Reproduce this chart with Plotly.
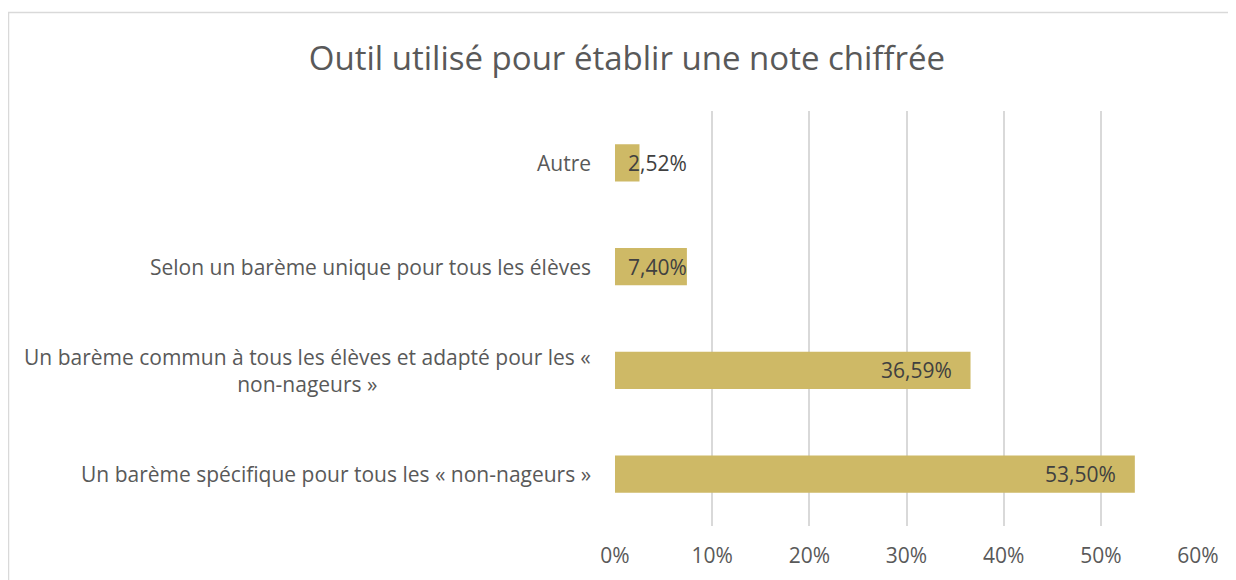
import plotly.graph_objects as go

# Data (top to bottom as displayed)
categories = [
    "Autre",
    "Selon un barème unique pour tous les élèves",
    "Un barème commun à tous les élèves et adapté pour les «<br>non-nageurs »",
    "Un barème spécifique pour tous les « non-nageurs »",
]
values = [2.52, 7.40, 36.59, 53.50]
tick_vals = [0, 10, 20, 30, 40, 50, 60]
tick_text = ["0%", "10%", "20%", "30%", "40%", "50%", "60%"]
title_text = "Outil utilisé pour établir une note chiffrée"

FONT = "'Open Sans', sans-serif"
BAR_COLOR = "#CEB966"
GRID = "#D9D9D9"
TXT = "#595959"
LBL = "#404040"

OFF = 8  # page body margin
W, H = 1236, 580
L, R, T, B = 615 - OFF, 38 + OFF, 111 - OFF, 54 + OFF
pw = W - L - R
ph = H - T - B

fig = go.Figure()
fig.add_trace(go.Bar(
    x=values, y=categories, orientation="h",
    marker=dict(color=BAR_COLOR, line=dict(width=0)),
    width=0.36, hoverinfo="skip",
))

# data labels (inside end, with minimum position for short bars)
label_floor = 7.6
for c, v in zip(categories, values):
    fig.add_annotation(
        x=max(v - 1.75, label_floor), y=c, xref="x", yref="y",
        text=f"{v:.2f}".replace(".", ",") + "%",
        showarrow=False, xanchor="right", yanchor="middle",
        font=dict(family=FONT, size=21, color=LBL),
    )

# category labels (centered multi-line)
for c in categories:
    fig.add_annotation(
        x=0, y=c, xref="paper", yref="y",
        text=c, showarrow=False, xanchor="right", yanchor="middle",
        align="center", xshift=-22,
        font=dict(family=FONT, size=21, color=TXT),
    )

# chart border (partially cropped like the reference)
fig.add_shape(
    type="rect", xref="paper", yref="paper",
    x0=(8.5 - OFF - L) / pw, x1=1.3,
    y0=-0.3, y1=1 + (T - (12.5 - OFF)) / ph,
    line=dict(color=GRID, width=1.5), layer="below",
)

fig.update_layout(
    width=W, height=H,
    margin=dict(l=L, r=R, t=T, b=B, pad=0),
    paper_bgcolor="white", plot_bgcolor="white",
    showlegend=False,
    title=dict(
        text=title_text, x=(627 - OFF) / W, y=1 - (58 - OFF) / H,
        xref="container", yref="container",
        xanchor="center", yanchor="middle",
        font=dict(family=FONT, size=33, color=TXT),
    ),
    xaxis=dict(
        range=[0, 60], tickvals=tick_vals, ticktext=tick_text,
        showgrid=True, gridcolor=GRID, gridwidth=1.5,
        zeroline=False, showline=False, ticks="",
        tickfont=dict(family=FONT, size=21, color=TXT),
        ticklabelstandoff=15, fixedrange=True,
    ),
    yaxis=dict(
        autorange="reversed", showticklabels=False,
        showgrid=False, zeroline=False, showline=False, ticks="",
        fixedrange=True,
    ),
)

fig.write_html("out.html")
